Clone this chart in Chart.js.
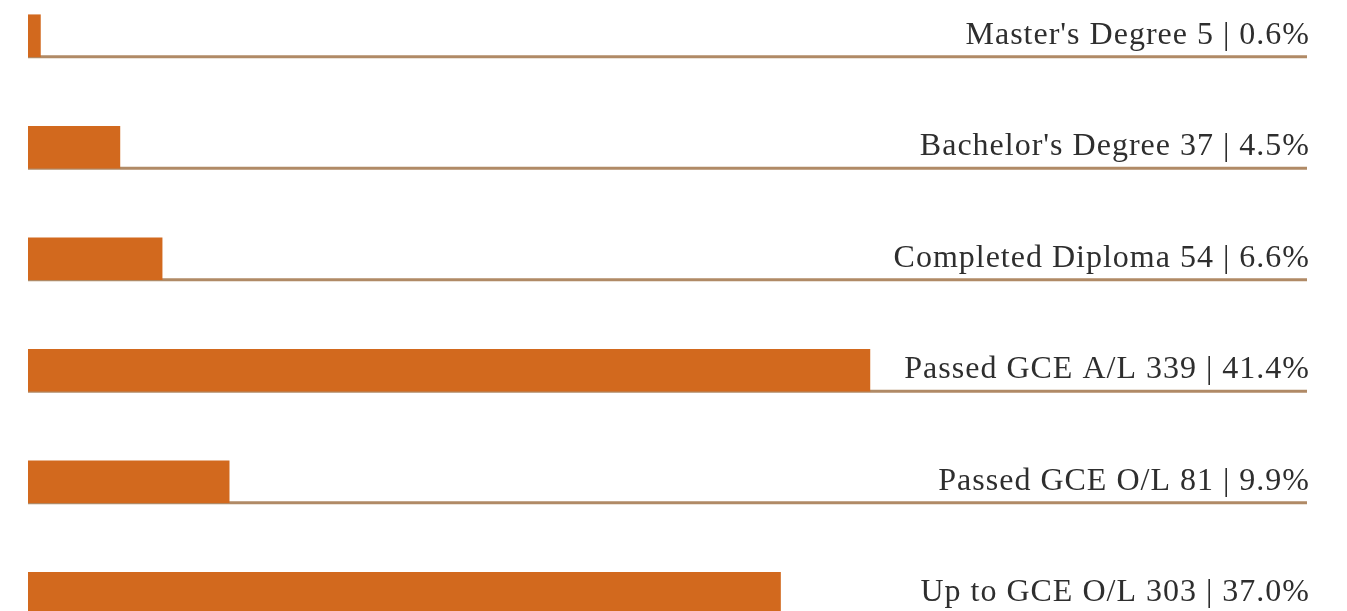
<!DOCTYPE html>
<html>
<head>
<meta charset="utf-8">
<script src="https://cdn.jsdelivr.net/npm/chart.js@4/dist/chart.umd.min.js"></script>
<style>
  html, body { margin: 0; padding: 0; background: #fff; overflow: hidden; }
  #wrap { position: absolute; left: 0; top: -20px; width: 1347px; height: 669px; }
</style>
</head>
<body>
<div id="wrap"><canvas id="grafica"></canvas></div>
<script>
  // datos
  var categorias = ["Master's Degree", "Bachelor's Degree", "Completed Diploma", "Passed GCE A/L", "Passed GCE O/L", "Up to GCE O/L"];
  var cantidades = [5, 37, 54, 339, 81, 303];
  var porcentajes = [0.6, 4.5, 6.6, 41.4, 9.9, 37.0];

  var naranja = "#d2691e";
  var colorLinea = "#b08a66";

  // linea base bajo cada barra + etiqueta a la derecha
  var lineasYEtiquetas = {
    id: "lineasYEtiquetas",
    beforeDatasetsDraw: function(chart) {
      var ctx = chart.ctx;
      var x0 = chart.scales.x.getPixelForValue(0);
      var meta = chart.getDatasetMeta(0);
      ctx.save();
      ctx.strokeStyle = colorLinea;
      ctx.lineWidth = 3;
      meta.data.forEach(function(bar) {
        var yb = bar.y + bar.height / 2;
        ctx.beginPath();
        ctx.moveTo(x0, yb);
        ctx.lineTo(chart.chartArea.right, yb);
        ctx.stroke();
      });
      ctx.restore();
    },
    afterDatasetsDraw: function(chart) {
      var ctx = chart.ctx;
      var meta = chart.getDatasetMeta(0);
      ctx.save();
      ctx.font = "32px 'Liberation Serif'";
      ctx.letterSpacing = "1px";
      ctx.fillStyle = "#2e2e2e";
      ctx.textAlign = "right";
      ctx.textBaseline = "alphabetic";
      meta.data.forEach(function(bar, i) {
        var yb = bar.y + bar.height / 2;
        var texto = categorias[i] + " " + cantidades[i] + " | " + porcentajes[i].toFixed(1) + "%";
        ctx.fillText(texto, chart.chartArea.right + 3, yb - 13);
      });
      ctx.restore();
    }
  };

  new Chart(document.getElementById("grafica").getContext("2d"), {
    type: "bar",
    data: {
      labels: categorias,
      datasets: [{
        data: cantidades,
        backgroundColor: naranja,
        borderWidth: 0,
        barThickness: 42
      }]
    },
    options: {
      indexAxis: "y",
      responsive: true,
      maintainAspectRatio: false,
      animation: false,
      layout: { padding: { left: 28, right: 40, top: 0, bottom: 0 } },
      scales: {
        x: { display: false, min: 0, max: 515 },
        y: { display: false }
      },
      plugins: {
        legend: { display: false },
        tooltip: { enabled: false }
      }
    },
    plugins: [lineasYEtiquetas]
  });
</script>
</body>
</html>
